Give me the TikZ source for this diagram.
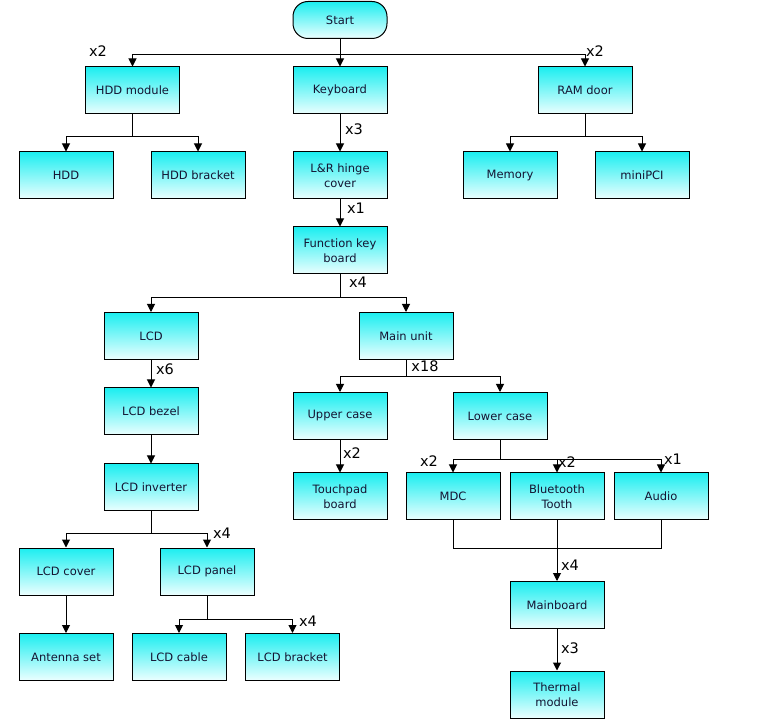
\documentclass[tikz,border=0pt]{standalone}
\usepackage{fontspec}
\setmainfont{DejaVu Sans}
\usetikzlibrary{arrows.meta}
\definecolor{boxtop}{RGB}{28,238,240}
\definecolor{boxbot}{RGB}{236,255,255}
\definecolor{txt}{RGB}{20,20,50}
\tikzset{
  box/.style={draw=black, line width=1pt, minimum width=94pt, minimum height=47pt, inner sep=1pt,
    top color=boxtop, bottom color=boxbot, align=center, text=txt,
    font=\fontsize{11.5}{15}\selectfont},
  startbox/.style={box, minimum height=37pt, rounded corners=15pt},
  arr/.style={draw, line width=1pt, -{Triangle[width=8pt,length=8pt]}},
  ln/.style={draw, line width=1pt},
  qty/.style={font=\fontsize{14.5}{14.5}\selectfont, inner sep=0pt, text=black}
}
\begin{document}
\begin{tikzpicture}[x=1pt,y=-1pt]
\useasboundingbox (0,0) rectangle (772,719);
\fill[white] (0,0) rectangle (772,719);
% nodes
\node[startbox] (start) at (340,20) {Start};
\node[box] (hddm) at (132.5,90.5) {HDD module};
\node[box] (kb) at (340,90.5) {Keyboard};
\node[box] (ram) at (585,90.5) {RAM door};
\node[box] (hdd) at (66,175.5) {HDD};
\node[box] (hddb) at (198,175.5) {HDD bracket};
\node[box] (hinge) at (340,175.5) {L\&R hinge\\cover};
\node[box] (mem) at (510,175.5) {Memory};
\node[box] (mpci) at (642,175.5) {miniPCI};
\node[box] (fkb) at (340,250.5) {Function key\\board};
\node[box] (lcd) at (151,336) {LCD};
\node[box] (mainu) at (406,336) {Main unit};
\node[box] (bezel) at (151,411.5) {LCD bezel};
\node[box] (upper) at (340,416) {Upper case};
\node[box] (lower) at (500,416) {Lower case};
\node[box] (inv) at (151,487.5) {LCD inverter};
\node[box] (touch) at (340,496.5) {Touchpad\\board};
\node[box] (mdc) at (453,496.5) {MDC};
\node[box] (bt) at (557,496.5) {Bluetooth\\Tooth};
\node[box] (audio) at (661,496.5) {Audio};
\node[box] (cover) at (66,571.5) {LCD cover};
\node[box] (panel) at (207,571.5) {LCD panel};
\node[box] (mb) at (557,605) {Mainboard};
\node[box] (ant) at (66,657) {Antenna set};
\node[box] (cable) at (179,657) {LCD cable};
\node[box] (brk) at (292.5,657) {LCD bracket};
\node[box] (therm) at (557,694.5) {Thermal\\module};
% connectors
\draw[arr] (start.south) -- (kb.north);
\draw[arr] (start.south |- 0,55) -| (hddm.north);
\draw[arr] (start.south |- 0,55) -| (ram.north);
\draw[ln] (hddm.south) -- (hddm.south |- 0,137);
\draw[arr] (hddm.south |- 0,137) -| (hdd.north);
\draw[arr] (hddm.south |- 0,137) -| (hddb.north);
\draw[ln] (ram.south) -- (ram.south |- 0,137);
\draw[arr] (ram.south |- 0,137) -| (mem.north);
\draw[arr] (ram.south |- 0,137) -| (mpci.north);
\draw[arr] (kb.south) -- (hinge.north);
\draw[arr] (hinge.south) -- (fkb.north);
\draw[ln] (fkb.south) -- (fkb.south |- 0,298);
\draw[arr] (fkb.south |- 0,298) -| (lcd.north);
\draw[arr] (fkb.south |- 0,298) -| (mainu.north);
\draw[arr] (lcd.south) -- (bezel.north);
\draw[arr] (bezel.south) -- (inv.north);
\draw[ln] (mainu.south) -- (mainu.south |- 0,377);
\draw[arr] (mainu.south |- 0,377) -| (upper.north);
\draw[arr] (mainu.south |- 0,377) -| (lower.north);
\draw[arr] (upper.south) -- (touch.north);
\draw[ln] (lower.south) -- (lower.south |- 0,460);
\draw[arr] (lower.south |- 0,460) -| (mdc.north);
\draw[arr] (lower.south |- 0,460) -| (bt.north);
\draw[arr] (lower.south |- 0,460) -| (audio.north);
\draw[ln] (mdc.south) -- (mdc.south |- 0,548) -- (audio.south |- 0,548) -- (audio.south);
\draw[arr] (bt.south) -- (mb.north);
\draw[arr] (mb.south) -- (therm.north);
\draw[ln] (inv.south) -- (inv.south |- 0,534);
\draw[arr] (inv.south |- 0,534) -| (cover.north);
\draw[arr] (inv.south |- 0,534) -| (panel.north);
\draw[arr] (cover.south) -- (ant.north);
\draw[ln] (panel.south) -- (panel.south |- 0,619);
\draw[arr] (panel.south |- 0,619) -| (cable.north);
\draw[arr] (panel.south |- 0,619) -| (brk.north);
% quantity labels
\node[qty] (q1) at (98,51) {x2};
\node[qty] (q2) at (595,51) {x2};
\node[qty] (q3) at (354,129) {x3};
\node[qty] (q4) at (356,208) {x1};
\node[qty] (q5) at (358,282) {x4};
\node[qty] (q6) at (165,369) {x6};
\node[qty] (q7) at (425,366) {x18};
\node[qty] (q8) at (352,453) {x2};
\node[qty] (q9) at (429,461) {x2};
\node[qty] (q10) at (567,462) {x2};
\node[qty] (q11) at (673,459) {x1};
\node[qty] (q12) at (222,533) {x4};
\node[qty] (q13) at (308,621) {x4};
\node[qty] (q14) at (570,565) {x4};
\node[qty] (q15) at (570,648) {x3};
\end{tikzpicture}
\end{document}
